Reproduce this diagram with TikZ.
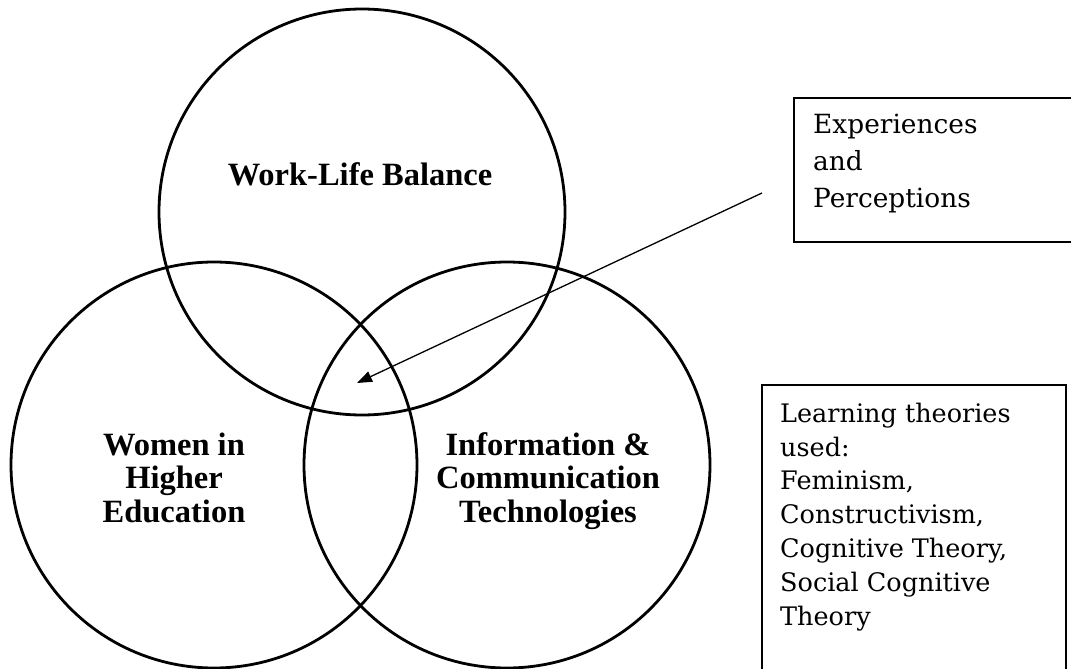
\documentclass[tikz,border=0pt]{standalone}
\usepackage{fontspec}
\setmainfont{DejaVu Serif}
\newfontfamily\labfont{Liberation Serif}
\usetikzlibrary{arrows.meta}
\tikzset{
  ring/.style={circle, draw, line width=2.8pt, minimum size=406pt, inner sep=0pt},
  lab/.style={font=\labfont\bfseries\fontsize{32.5}{33.5}\selectfont, align=center, inner sep=0pt, anchor=base},
  boxframe/.style={draw, line width=2.2pt, anchor=north west, inner sep=0pt},
  boxtext/.style={align=left, inner sep=0pt, anchor=base west},
  pointer/.style={line width=1.3pt, -{Triangle[length=15pt,width=11pt]}}
}
\begin{document}
\begin{tikzpicture}[x=1pt,y=-1pt]
\useasboundingbox (0,0) rectangle (1071,669);
\clip (0,0) rectangle (1071,669);
\node[ring] (wlb) at (362,212) {};
\node[ring] (whe) at (214,465) {};
\node[ring] (ict) at (507,465) {};
\node[lab] (wlbt) at (360,185) {Work-Life Balance};
\node[lab] (whet) at (174,522) {Women in\\Higher\\Education};
\node[lab] (ictt) at (548,522) {Information \&\\Communication\\Technologies};
\node[boxframe, minimum width=300pt, minimum height=144pt] (exp) at (793,97) {};
\node[boxtext, font=\fontsize{26.4}{37}\selectfont] (expt) at (813,207) {Experiences\\and\\Perceptions};
\node[boxframe, minimum width=304pt, minimum height=300pt] (lt) at (761,384) {};
\node[boxtext, font=\fontsize{25.5}{33.8}\selectfont] (ltt) at (780,625) {Learning theories\\used:\\Feminism,\\Constructivism,\\Cognitive Theory,\\Social Cognitive\\Theory};
\coordinate (src) at (762,193);
\coordinate (tip) at (357,383);
\draw[pointer] (src) -- (tip);
\end{tikzpicture}
\end{document}
